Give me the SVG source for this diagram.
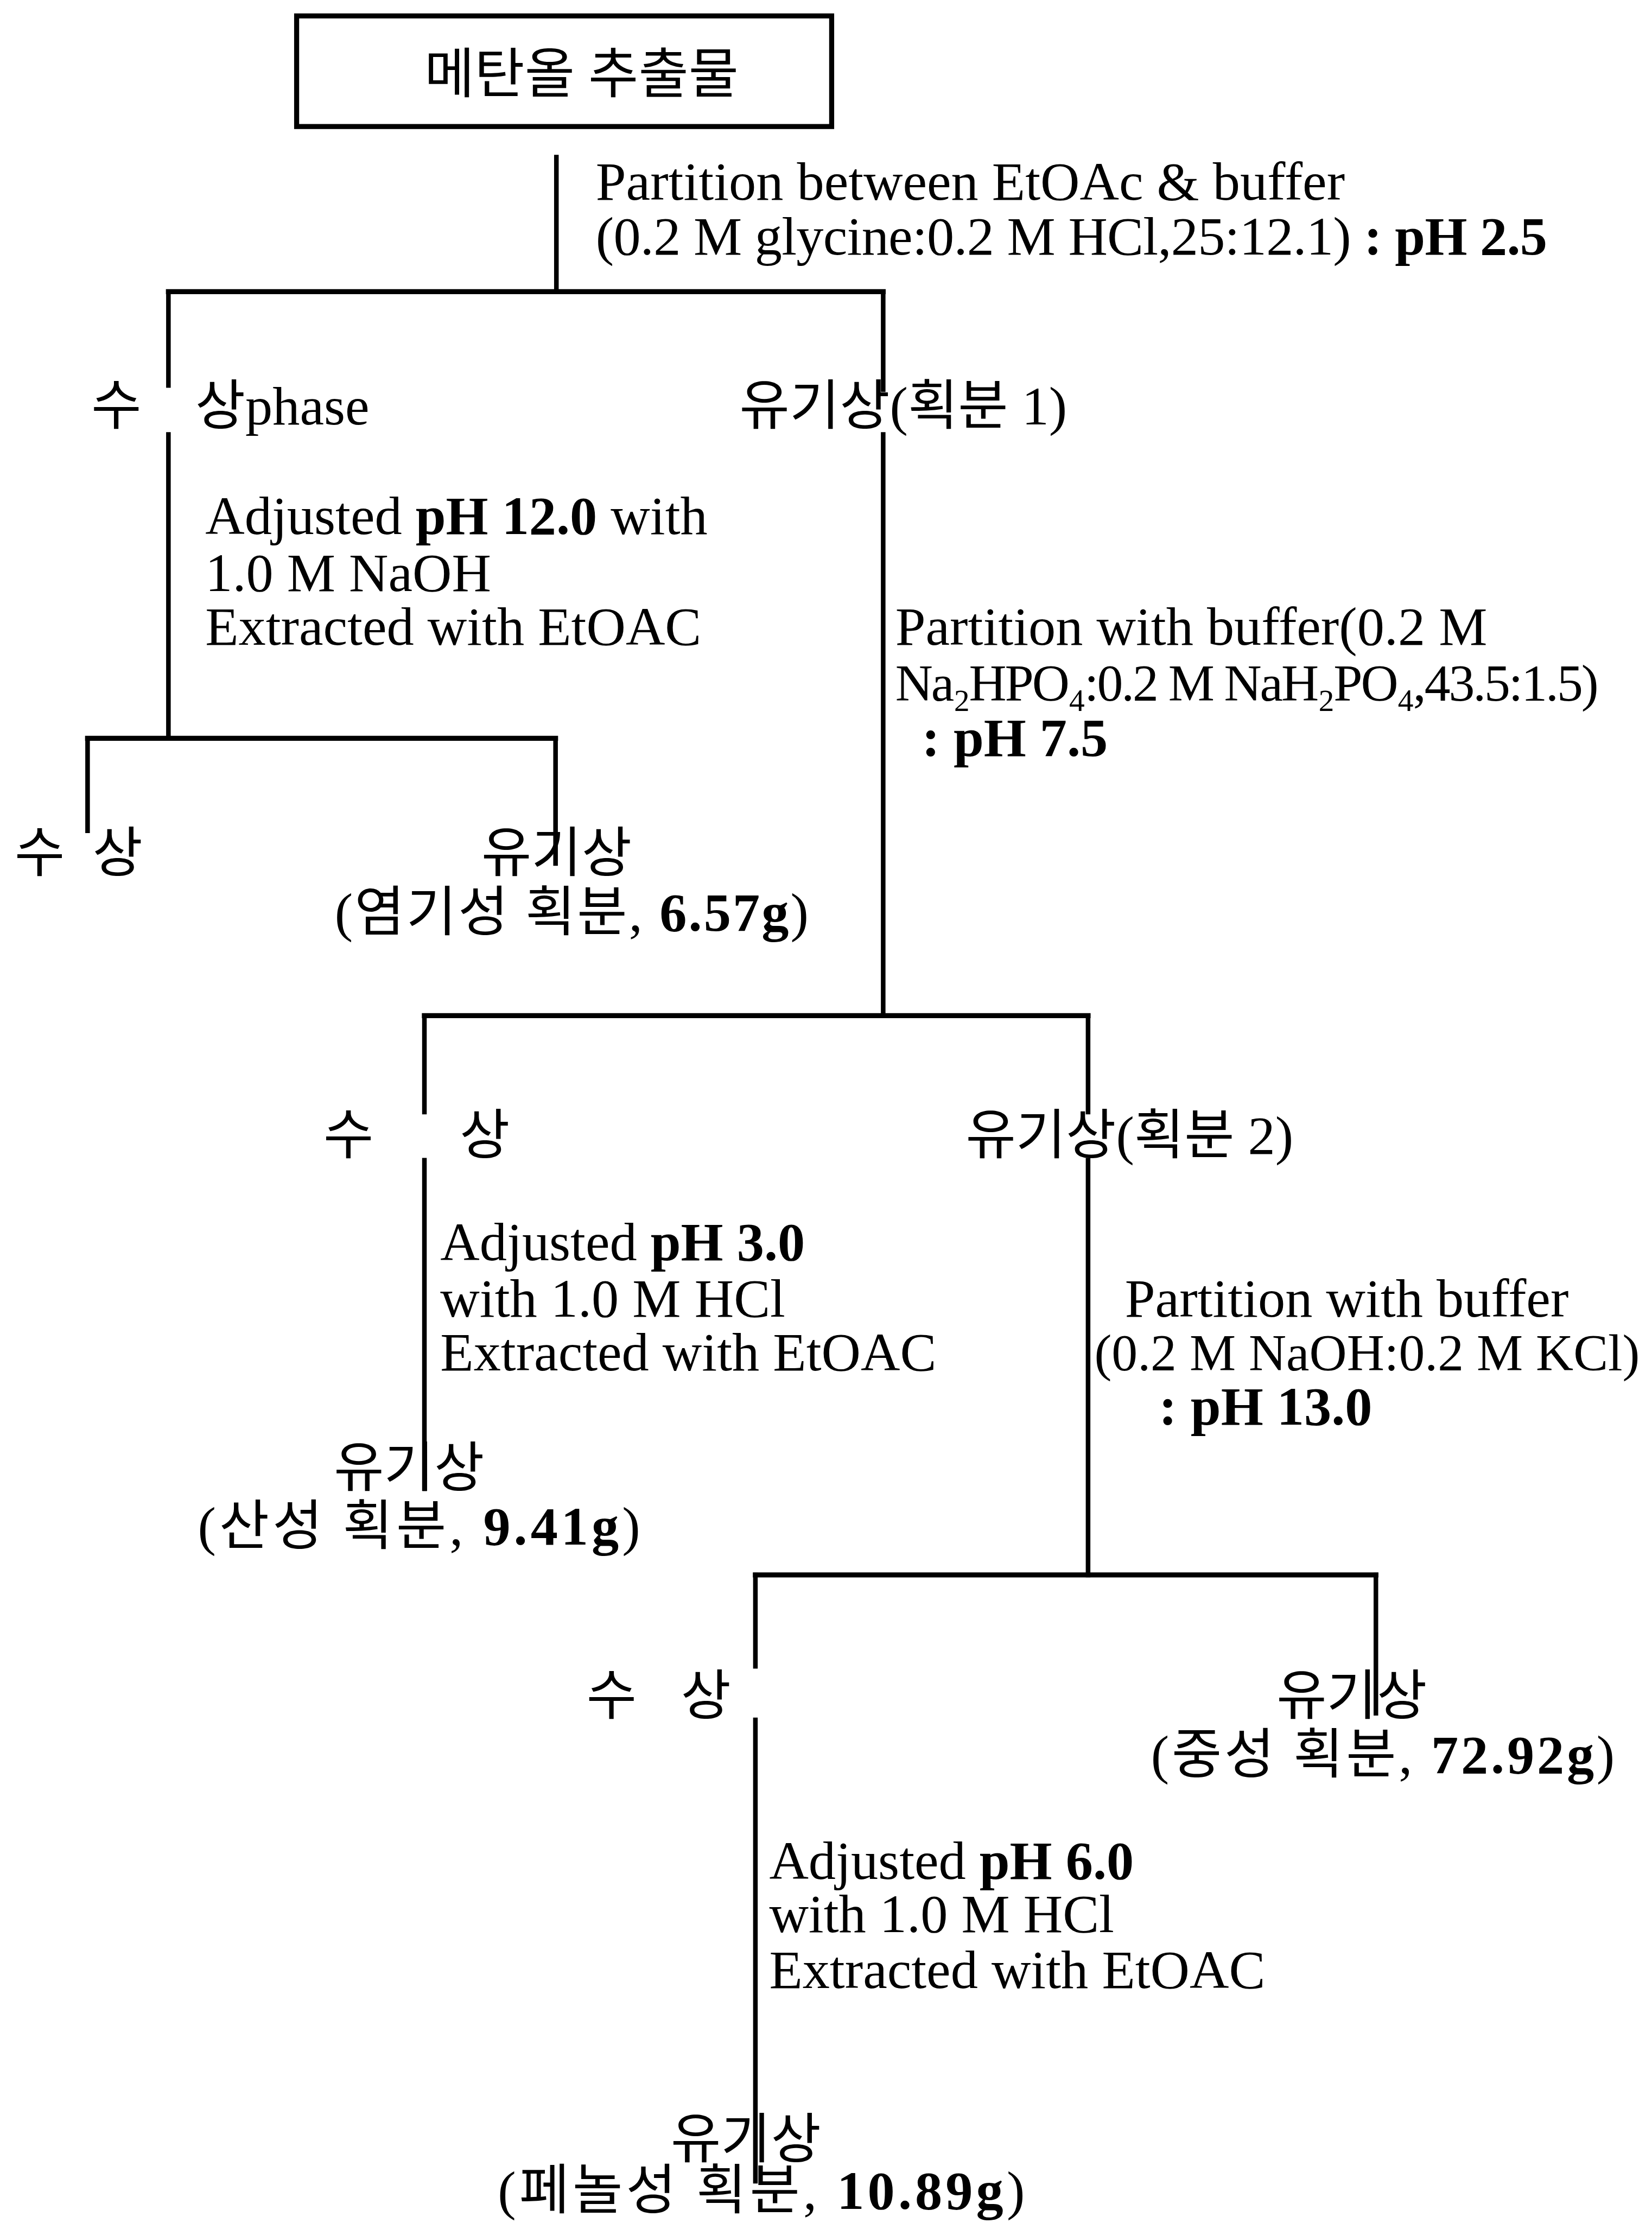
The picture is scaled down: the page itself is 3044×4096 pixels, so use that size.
<svg xmlns="http://www.w3.org/2000/svg" width="3044" height="4096" viewBox="0 0 3044 4096">
<style>
  text { font-family: 'Liberation Serif', 'Noto Sans CJK KR', serif; font-size: 130px; fill: #000; }
  .b { font-weight: bold; }
  .chem { font-family: 'Liberation Serif', 'DejaVu Serif', serif; font-size: 124px; letter-spacing: -4px; }
  .ln { stroke: #000; stroke-width: 11; fill: none; stroke-linecap: square; }
  .bar { stroke: #000; stroke-width: 12; fill: none; stroke-linecap: square; }
</style>
<rect width="3044" height="4096" fill="#fff"/>
<g transform="scale(0.772)">
  <g id="connectors">
    <line class="ln" x1="1328" y1="375" x2="1328" y2="696"/>
    <line class="bar" x1="402" y1="696" x2="2108" y2="696"/>
    <line class="ln" x1="402" y1="696" x2="402" y2="920"/>
    <line class="ln" x1="402" y1="1037" x2="402" y2="1762"/>
    <line class="ln" x1="2108" y1="696" x2="2108" y2="930"/>
    <line class="ln" x1="2108" y1="1037" x2="2108" y2="2424"/>
    <line class="bar" x1="209" y1="1762" x2="1326" y2="1762"/>
    <line class="ln" x1="209" y1="1762" x2="209" y2="1983"/>
    <line class="ln" x1="1326" y1="1762" x2="1326" y2="2061"/>
    <line class="bar" x1="1013" y1="2424" x2="2597" y2="2424"/>
    <line class="ln" x1="1013" y1="2424" x2="1013" y2="2654"/>
    <line class="ln" x1="1013" y1="2769" x2="1013" y2="3553"/>
    <line class="ln" x1="2597" y1="2424" x2="2597" y2="2654"/>
    <line class="ln" x1="2597" y1="2769" x2="2597" y2="3759"/>
    <line class="bar" x1="1803" y1="3759" x2="3284" y2="3759"/>
    <line class="ln" x1="1803" y1="3759" x2="1803" y2="3977"/>
    <line class="ln" x1="1803" y1="4105" x2="1803" y2="5206"/>
    <line class="ln" x1="3284" y1="3759" x2="3284" y2="4089"/>
  </g>

  <g id="node-extract">
    <rect x="708" y="38" width="1277" height="264" fill="none" stroke="#000" stroke-width="12"/>
    <text x="1388" y="222" text-anchor="middle">메탄올 추출물</text>
  </g>

  <g id="step-1">
    <text x="1422" y="477">Partition between EtOAc &amp; buffer</text>
    <text x="1422" y="608" textLength="2271" lengthAdjust="spacing">(0.2 M glycine:0.2 M HCl,25:12.1) <tspan class="b">: pH 2.5</tspan></text>
  </g>

  <g id="node-aq1">
    <text y="1013"><tspan x="218">수</tspan><tspan x="466">상phase</tspan></text>
  </g>
  <g id="node-org1">
    <text x="1765" y="1013">유기상(획분 1)</text>
  </g>

  <g id="step-2">
    <text x="490" y="1274">Adjusted <tspan class="b">pH 12.0</tspan> with</text>
    <text x="490" y="1410">1.0 M NaOH</text>
    <text x="490" y="1539">Extracted with EtOAC</text>
  </g>

  <g id="node-aq2">
    <text y="2080"><tspan x="35">수</tspan><tspan x="221">상</tspan></text>
  </g>
  <g id="node-basic">
    <text x="1149" y="2080">유기상</text>
    <text x="799" y="2222" textLength="1131" lengthAdjust="spacing">(염기성 획분, <tspan class="b">6.57g</tspan>)</text>
  </g>

  <g id="step-3">
    <text x="2137" y="1539">Partition with buffer(0.2 M</text>
    <text class="chem" x="2137" y="1672">Na₂HPO₄:0.2 M NaH₂PO₄,43.5:1.5)</text>
    <text x="2200" y="1804" class="b">: pH 7.5</text>
  </g>

  <g id="node-aq3">
    <text y="2754"><tspan x="772">수</tspan><tspan x="1097">상</tspan></text>
  </g>
  <g id="node-org2">
    <text x="2305" y="2754">유기상(획분 2)</text>
  </g>

  <g id="step-4">
    <text x="1051" y="3008">Adjusted <tspan class="b">pH 3.0</tspan></text>
    <text x="1051" y="3142">with 1.0 M HCl</text>
    <text x="1051" y="3271">Extracted with EtOAC</text>
  </g>

  <g id="step-5">
    <text x="2685" y="3142">Partition with buffer</text>
    <text x="2612" y="3271" style="font-size:124px">(0.2 M NaOH:0.2 M KCl)</text>
    <text x="2766" y="3400" class="b">: pH 13.0</text>
  </g>

  <g id="node-acidic">
    <text x="797" y="3548">유기상</text>
    <text x="472" y="3686" textLength="1056" lengthAdjust="spacing">(산성 획분, <tspan class="b">9.41g</tspan>)</text>
  </g>

  <g id="node-aq4">
    <text y="4092"><tspan x="1400">수</tspan><tspan x="1625">상</tspan></text>
  </g>
  <g id="node-neutral">
    <text x="3047" y="4092">유기상</text>
    <text x="2747" y="4232" textLength="1107" lengthAdjust="spacing">(중성 획분, <tspan class="b">72.92g</tspan>)</text>
  </g>

  <g id="step-6">
    <text x="1836" y="4484">Adjusted <tspan class="b">pH 6.0</tspan></text>
    <text x="1836" y="4612">with 1.0 M HCl</text>
    <text x="1836" y="4745">Extracted with EtOAC</text>
  </g>

  <g id="node-phenolic">
    <text x="1601" y="5150">유기상</text>
    <text x="1188" y="5272" textLength="1258" lengthAdjust="spacing">(페놀성 획분, <tspan class="b">10.89g</tspan>)</text>
  </g>
</g>
</svg>
